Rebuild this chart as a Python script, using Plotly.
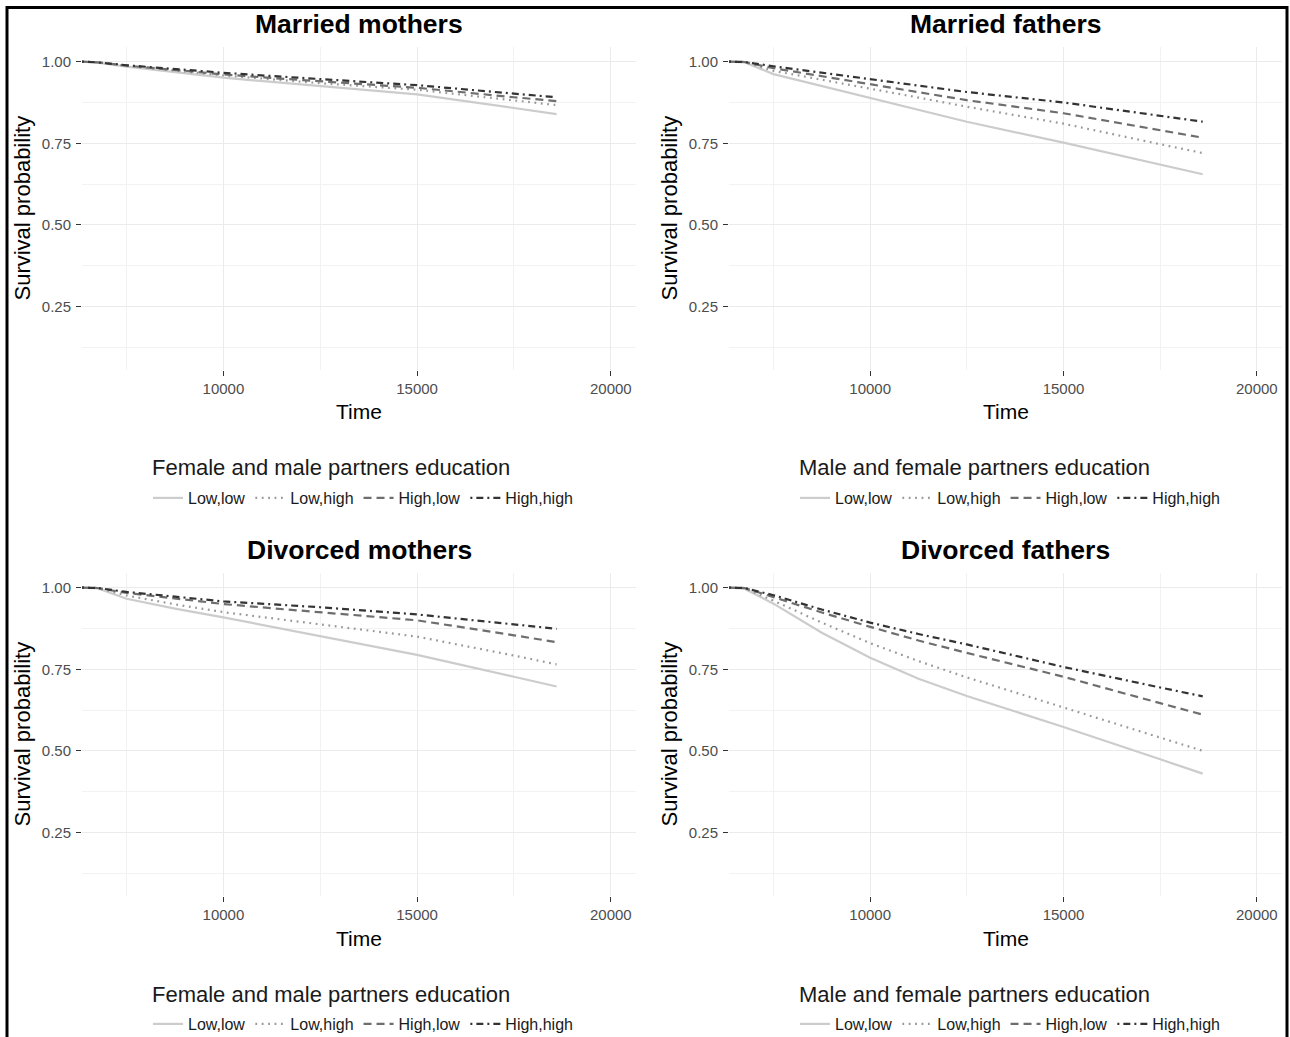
import plotly.graph_objects as go

# ---------------- data ----------------
TIME = [6350, 6750, 7500, 8750, 10000, 11250, 12500, 15000, 17500, 18600]
GROUPS = ["Low,low", "Low,high", "High,low", "High,high"]

MARRIED_MOTHERS_LL = [1.000, 0.997, 0.985, 0.968, 0.951, 0.938, 0.926, 0.900, 0.858, 0.839]
MARRIED_MOTHERS_LH = [1.000, 0.998, 0.987, 0.972, 0.958, 0.946, 0.934, 0.914, 0.881, 0.867]
MARRIED_MOTHERS_HL = [1.000, 0.998, 0.988, 0.974, 0.961, 0.950, 0.940, 0.920, 0.891, 0.879]
MARRIED_MOTHERS_HH = [1.000, 0.998, 0.989, 0.977, 0.966, 0.956, 0.946, 0.928, 0.902, 0.891]

MARRIED_FATHERS_LL = [1.000, 0.998, 0.962, 0.925, 0.890, 0.852, 0.816, 0.752, 0.685, 0.655]
MARRIED_FATHERS_LH = [1.000, 0.999, 0.972, 0.945, 0.919, 0.890, 0.862, 0.810, 0.747, 0.720]
MARRIED_FATHERS_HL = [1.000, 0.999, 0.980, 0.955, 0.931, 0.906, 0.882, 0.842, 0.789, 0.767]
MARRIED_FATHERS_HH = [1.000, 0.999, 0.986, 0.966, 0.947, 0.927, 0.907, 0.875, 0.834, 0.816]

DIVORCED_MOTHERS_LL = [1.000, 0.998, 0.966, 0.936, 0.909, 0.880, 0.853, 0.794, 0.727, 0.697]
DIVORCED_MOTHERS_LH = [1.000, 0.999, 0.976, 0.949, 0.925, 0.906, 0.889, 0.850, 0.792, 0.765]
DIVORCED_MOTHERS_HL = [1.000, 0.999, 0.984, 0.966, 0.950, 0.937, 0.925, 0.900, 0.854, 0.833]
DIVORCED_MOTHERS_HH = [1.000, 0.999, 0.987, 0.972, 0.958, 0.949, 0.940, 0.918, 0.888, 0.874]

DIVORCED_FATHERS_LL = [1.000, 0.997, 0.951, 0.862, 0.785, 0.721, 0.668, 0.573, 0.474, 0.430]
DIVORCED_FATHERS_LH = [1.000, 0.998, 0.960, 0.893, 0.830, 0.775, 0.725, 0.632, 0.541, 0.500]
DIVORCED_FATHERS_HL = [1.000, 0.999, 0.971, 0.924, 0.880, 0.838, 0.800, 0.727, 0.646, 0.611]
DIVORCED_FATHERS_HH = [1.000, 0.999, 0.977, 0.933, 0.893, 0.858, 0.826, 0.757, 0.694, 0.667]

PANEL_TITLES = ["Married mothers", "Married fathers", "Divorced mothers", "Divorced fathers"]
LEGEND_TITLES = ["Female and male partners education", "Male and female partners education",
                 "Female and male partners education", "Male and female partners education"]
X_TICKS = [10000, 15000, 20000]
X_TICK_LABELS = ["10000", "15000", "20000"]
X_MINOR = [7500, 12500, 17500]
Y_TICKS = [0.25, 0.50, 0.75, 1.00]
Y_TICK_LABELS = ["0.25", "0.50", "0.75", "1.00"]
Y_MINOR = [0.125, 0.375, 0.625, 0.875]
X_LABEL = "Time"
Y_LABEL = "Survival probability"

PANEL_DATA = [
    [MARRIED_MOTHERS_LL, MARRIED_MOTHERS_LH, MARRIED_MOTHERS_HL, MARRIED_MOTHERS_HH],
    [MARRIED_FATHERS_LL, MARRIED_FATHERS_LH, MARRIED_FATHERS_HL, MARRIED_FATHERS_HH],
    [DIVORCED_MOTHERS_LL, DIVORCED_MOTHERS_LH, DIVORCED_MOTHERS_HL, DIVORCED_MOTHERS_HH],
    [DIVORCED_FATHERS_LL, DIVORCED_FATHERS_LH, DIVORCED_FATHERS_HL, DIVORCED_FATHERS_HH],
]

# ---------------- styling ----------------
W, H = 1290, 1037
FONT = "Liberation Sans, Arial, Helvetica, sans-serif"
COLORS = ["#CCCCCC", "#999999", "#6E6E6E", "#333333"]
DASHES = ["solid", "1.8px,4.6px", "8px,5px", "2px,4px,7px,4px"]
LINE_W = 2.2

def fx(p):
    return p / W

def fy(p):
    return 1 - p / H

COLS = [(82, 636), (729, 1282)]
ROWS = [(47, 370), (573, 896)]
X_RANGE = [6350, 20650]
Y_RANGE = [0.055, 1.045]

fig = go.Figure()
layout = dict(
    width=W, height=H,
    margin=dict(l=0, r=0, t=0, b=0, autoexpand=False),
    paper_bgcolor="white", plot_bgcolor="white",
    font=dict(family=FONT, color="#000000"),
    annotations=[], shapes=[],
    hovermode=False,
)

for i in range(4):
    r, c = divmod(i, 2)
    xl, xr = COLS[c]
    yt, yb = ROWS[r]
    sfx = "" if i == 0 else str(i + 1)
    xname, yname = "x" + sfx, "y" + sfx
    lname = "legend" + sfx

    for g, (grp, vals) in enumerate(zip(GROUPS, PANEL_DATA[i])):
        fig.add_trace(go.Scatter(
            x=TIME, y=vals, mode="lines", name=grp,
            line=dict(color=COLORS[g], width=LINE_W, dash=DASHES[g]),
            xaxis=xname, yaxis=yname, legend=lname, showlegend=True,
        ))

    grid = dict(showgrid=True, gridcolor="#EBEBEB", gridwidth=1.1,
                zeroline=False, showline=False, ticks="outside", ticklen=5,
                tickwidth=1.2, tickcolor="#333333", automargin=False,
                tickfont=dict(size=15, color="#4D4D4D", family=FONT))
    layout["xaxis" + sfx] = dict(
        grid, domain=[fx(xl), fx(xr)], range=X_RANGE, anchor=yname,
        tickmode="array", tickvals=X_TICKS, ticktext=X_TICK_LABELS,
        ticklabelstandoff=0,
        minor=dict(tickmode="array", tickvals=X_MINOR, showgrid=True,
                   gridcolor="#F2F2F2", gridwidth=0.6, ticks=""),
    )
    layout["yaxis" + sfx] = dict(
        grid, domain=[fy(yb), fy(yt)], range=Y_RANGE, anchor=xname,
        tickmode="array", tickvals=Y_TICKS, ticktext=Y_TICK_LABELS,
        ticklabelstandoff=2,
        minor=dict(tickmode="array", tickvals=Y_MINOR, showgrid=True,
                   gridcolor="#F2F2F2", gridwidth=0.6, ticks=""),
    )

    cx = (xl + xr) / 2
    off = r * 526
    lx = 152 + c * 647
    layout["annotations"].append(dict(
        text="<b>" + PANEL_TITLES[i] + "</b>", x=fx(cx), y=fy(24 + off),
        xref="paper", yref="paper", xanchor="center", yanchor="middle",
        showarrow=False, font=dict(size=26.5, color="#000000", family=FONT)))
    layout["annotations"].append(dict(
        text=X_LABEL, x=fx(cx), y=fy(412 + off),
        xref="paper", yref="paper", xanchor="center", yanchor="middle",
        showarrow=False, font=dict(size=21, color="#000000", family=FONT)))
    layout["annotations"].append(dict(
        text=Y_LABEL, x=fx(22 + c * 647), y=fy((yt + yb) / 2),
        xref="paper", yref="paper", xanchor="center", yanchor="middle",
        textangle=-90, showarrow=False,
        font=dict(size=22, color="#000000", family=FONT)))
    # legend title
    layout["annotations"].append(dict(
        text=LEGEND_TITLES[i], x=fx(lx - 2), y=fy(468 + off),
        xref="paper", yref="paper", xanchor="left", yanchor="middle",
        showarrow=False, font=dict(size=22, color="#1A1A1A", family=FONT)))

    layout[lname] = dict(
        orientation="h", x=fx(lx - 4), y=fy(481 + off),
        xanchor="left", yanchor="top", bgcolor="rgba(0,0,0,0)",
        font=dict(size=16, color="#1A1A1A", family=FONT),
        itemwidth=30, traceorder="normal",
    )

layout["shapes"].append(dict(
    type="rect", xref="paper", yref="paper",
    x0=fx(7), x1=fx(1287), y0=fy(1060), y1=fy(7.5),
    line=dict(color="#000000", width=3), fillcolor="rgba(0,0,0,0)"))

fig.update_layout(**layout)
fig.write_html("out.html", config={"displayModeBar": False},
               post_script="document.body.style.margin='0';")
